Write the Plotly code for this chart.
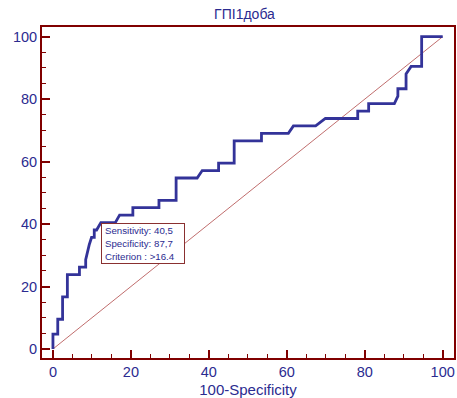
import plotly.graph_objects as go

# ROC curve vertices (100-Specificity, Sensitivity)
fpr = [0, 0, 1.23, 1.23, 2.47, 2.47, 3.7, 3.7, 6.8, 6.8, 8.4, 8.4, 9.3, 9.9, 10.6, 10.6,
       11.2, 12.3, 16.0, 17.1, 20.5, 20.5, 27.2, 27.2, 31.6, 31.6, 37.0, 38.3, 42.5, 42.5,
       46.5, 46.5, 53.5, 53.5, 60.4, 61.7, 67.4, 69.9, 78.2, 78.2, 81.0, 81.0, 87.6, 88.5,
       88.5, 90.6, 90.6, 91.9, 94.6, 94.6, 100]
sens = [0, 4.76, 4.76, 9.52, 9.52, 16.67, 16.67, 23.81, 23.81, 26.19, 26.19, 28.57, 33.33,
        35.71, 35.71, 38.1, 38.1, 40.48, 40.48, 42.86, 42.86, 45.24, 45.24, 47.62, 47.62,
        54.76, 54.76, 57.14, 57.14, 59.52, 59.52, 66.67, 66.67, 69.05, 69.05, 71.43, 71.43,
        73.81, 73.81, 76.19, 76.19, 78.57, 78.57, 80.95, 83.33, 83.33, 88.1, 90.48, 90.48,
        100, 100]
diag = [0, 100]

crit_fpr = 12.3
crit_sens = 40.5
crit_spec = 87.7
crit_label = ">16,4"
title = "ГПІ1доба"
x_title = "100-Specificity"
tick_vals = [0, 20, 40, 60, 80, 100]

axis_col = "#800000"
text_col = "#2b2b90"
curve_col = "#333399"
font_fam = "Liberation Sans, Arial"

fig = go.Figure()
fig.add_trace(go.Scatter(x=diag, y=diag, mode="lines",
                         line=dict(color="#b04848", width=0.8), hoverinfo="skip"))
fig.add_trace(go.Scatter(x=fpr, y=sens, mode="lines",
                         line=dict(color=curve_col, width=2.8)))

fig.add_annotation(
    x=crit_fpr, y=crit_sens, xref="x", yref="y", xanchor="left", yanchor="top",
    text=f"Sensitivity: {str(crit_sens).replace('.', ',')}<br>"
         f"Specificity: {str(crit_spec).replace('.', ',')}<br>"
         f"Criterion : {crit_label}",
    showarrow=False, align="left", bgcolor="white", width=76, height=33,
    bordercolor="#8a3030", borderwidth=1, borderpad=3,
    font=dict(family=font_fam, size=9.7, color=text_col),
)

common = dict(
    showline=True, linecolor=axis_col, linewidth=2, mirror=True,
    ticks="inside", ticklen=8, tickwidth=2, tickcolor=axis_col,
    tickvals=tick_vals, showgrid=False, zeroline=False,
    tickfont=dict(family=font_fam, size=14.5, color=text_col),
    minor=dict(ticks="inside", ticklen=4, tickwidth=1.3, tickcolor=axis_col,
               dtick=5, tick0=0, showgrid=False),
)

fig.update_layout(
    width=457, height=398,
    margin=dict(l=42, r=1, t=27, b=40),
    paper_bgcolor="white", plot_bgcolor="white",
    showlegend=False,
    title=dict(text=title, x=0.535, xanchor="center", y=0.965, yanchor="middle",
               font=dict(family=font_fam, size=14, color=text_col)),
    xaxis=dict(range=[-2.81, 102.9],
               title=dict(text=x_title, standoff=5,
                          font=dict(family=font_fam, size=15, color=text_col)),
               **common),
    yaxis=dict(range=[-2.88, 103.1], **common),
)

fig.write_html("out.html")
